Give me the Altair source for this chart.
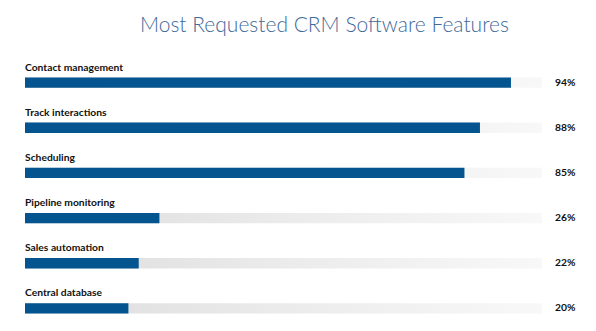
import altair as alt
import pandas as pd

features = ["Contact management", "Track interactions", "Scheduling",
            "Pipeline monitoring", "Sales automation", "Central database"]
values = [94, 88, 85, 26, 22, 20]
track = [100] * len(features)
pct_labels = [f"{v}%" for v in values]

df = pd.DataFrame({"feature": features, "value": values, "track": track,
                   "pct": pct_labels})

ysc = alt.Scale(domain=features, paddingInner=0.77, paddingOuter=0.385)
xsc = alt.Scale(domain=[0, 100], nice=False, zero=True)
noax = None

base = alt.Chart(df).encode(
    y=alt.Y("feature:N", scale=ysc, axis=noax, sort=features)
)

bg = base.mark_bar(
    color=alt.Gradient(
        gradient="linear",
        stops=[alt.GradientStop(offset=0, color="#dcdcdc"),
               alt.GradientStop(offset=0.5, color="#ebebeb"),
               alt.GradientStop(offset=1, color="#f8f8f8")],
        x1=0, x2=1, y1=0, y2=0),
    cornerRadius=0,
).encode(x=alt.X("track:Q", scale=xsc, axis=noax))

bars = base.mark_bar(color="#03548f").encode(
    x=alt.X("value:Q", scale=xsc, axis=noax)
)

names = base.mark_text(
    align="left", baseline="alphabetic", dy=-12, font="Lato",
    fontSize=10.3, fontWeight="bold", color="#111111"
).encode(x=alt.value(0), text="feature:N")

pcts = base.mark_text(
    align="left", baseline="middle", dx=13, font="Lato",
    fontSize=10.3, fontWeight="bold", color="#111111"
).encode(x=alt.X("track:Q", scale=xsc, axis=noax), text="pct:N")

chart = alt.layer(bg, bars, names, pcts).properties(
    width=517, height=271,
    background="white",
    autosize=alt.AutoSizeParams(type="none"),
    padding={"left": 25, "top": 60, "right": 54, "bottom": 0},
    title=alt.TitleParams(
        "Most Requested CRM Software Features",
        anchor="start", dx=115, offset=24, font="Lato", fontSize=21,
        fontWeight=300, color="#3f6a99",
    ),
).configure_view(strokeWidth=0, stroke="transparent")

chart.save("out.html", embed_options={"renderer": "svg", "actions": False})
